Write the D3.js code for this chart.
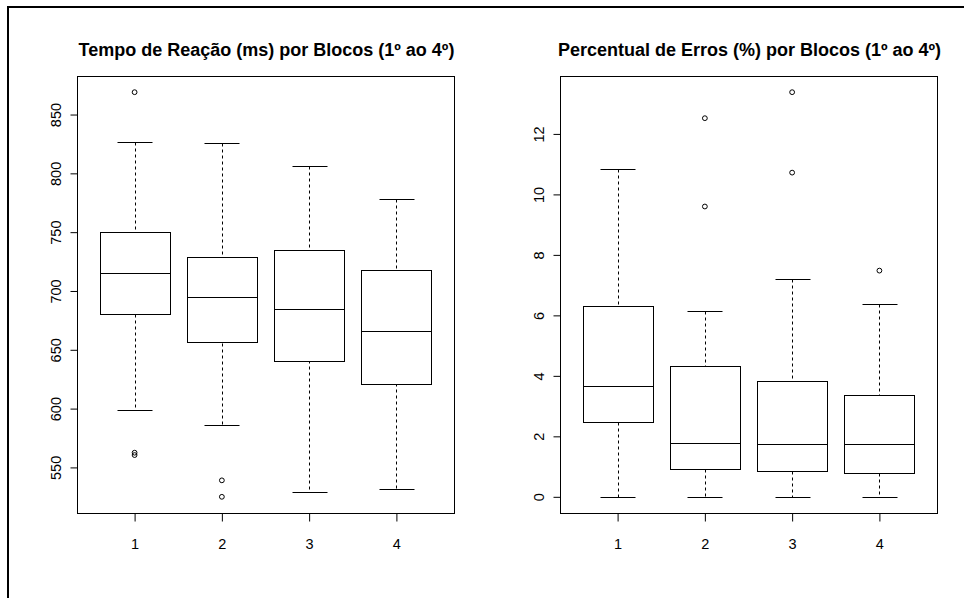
<!DOCTYPE html>
<html>
<head>
<meta charset="utf-8">
<script src="https://cdn.jsdelivr.net/npm/d3@7"></script>
<style>
  html, body { margin: 0; padding: 0; background: #fff; }
  svg { display: block; }
  text { font-family: "Liberation Sans", Arial, Helvetica, sans-serif; fill: #000; }
</style>
</head>
<body>
<script>
// Blocks on the x axis
const blocks = ["1", "2", "3", "4"];

// Reaction time (ms): whisker ends, quartiles, medians and outliers per block
const rtLower   = [599, 586, 529, 532];
const rtQ1      = [680, 656, 641, 621.5];
const rtMedian  = [715, 695, 684.5, 666];
const rtQ3      = [750, 728.5, 735, 718];
const rtUpper   = [827, 826, 806.5, 778];
const rtOutliers = [[869, 562.5, 560.5], [539, 525], [], []];
const rtTicks   = [550, 600, 650, 700, 750, 800, 850];

// Error percentage (%): whisker ends, quartiles, medians and outliers per block
const errLower   = [0, 0, 0, 0];
const errQ1      = [2.47, 0.92, 0.86, 0.79];
const errMedian  = [3.65, 1.78, 1.73, 1.75];
const errQ3      = [6.31, 4.33, 3.84, 3.38];
const errUpper   = [10.83, 6.13, 7.19, 6.39];
const errOutliers = [[], [12.52, 9.6], [13.38, 10.72], [7.48]];
const errTicks   = [0, 2, 4, 6, 8, 10, 12];

const W = 964, H = 598;
const svg = d3.select("body").append("svg").attr("width", W).attr("height", H);

// outer frame (only the top and left edges fall inside the page)
svg.append("rect")
  .attr("x", 8).attr("y", 7).attr("width", 1200).attr("height", 900)
  .attr("fill", "none").attr("stroke", "#000").attr("stroke-width", 2);

function panel(opts) {
  const { left, right, top, bottom, title, lower, q1, med, q3, upper, outliers, ticks } = opts;
  const g = svg.append("g");

  // y extent: data range padded by 4% on each side
  const all = [].concat(lower, upper, outliers.flat());
  const lo = d3.min(all), hi = d3.max(all), pad = (hi - lo) * 0.04;
  const y = d3.scaleLinear().domain([lo - pad, hi + pad]).range([bottom, top]);
  const x = d3.scaleLinear().domain([0.34, 4.66]).range([left, right]);

  const bw = x(1.4) - x(1);   // half box width (box width 0.8)
  const cw = x(1.2) - x(1);   // half staple width

  // title
  g.append("text")
    .attr("x", (left + right) / 2 + 1).attr("y", 56)
    .attr("text-anchor", "middle")
    .attr("font-weight", "bold").attr("font-size", 18)
    .text(title);

  // plot frame
  g.append("rect")
    .attr("x", left + 0.5).attr("y", top + 0.5)
    .attr("width", right - left).attr("height", bottom - top)
    .attr("fill", "none").attr("stroke", "#000").attr("stroke-width", 1);

  // y axis
  const ya = d3.axisLeft(y).tickValues(ticks).tickSize(7).tickPadding(0).tickFormat(d3.format("d"));
  const yg = g.append("g").attr("transform", `translate(${left + 0.5},0)`).call(ya);
  yg.select(".domain").remove();
  yg.selectAll(".tick line").attr("stroke", "#000");
  yg.selectAll(".tick text")
    .attr("x", 0).attr("y", 0).attr("dy", 0)
    .attr("transform", "translate(-17,0) rotate(-90)")
    .attr("text-anchor", "middle")
    .attr("font-size", 14.5)
    .style("font-family", "Liberation Sans, Arial, sans-serif");

  // x axis
  const xa = d3.axisBottom(x).tickValues([1, 2, 3, 4]).tickSize(8).tickPadding(0)
    .tickFormat((d, i) => blocks[i]);
  const xg = g.append("g").attr("transform", `translate(0,${bottom + 0.5})`).call(xa);
  xg.select(".domain").remove();
  xg.selectAll(".tick line").attr("stroke", "#000");
  xg.selectAll(".tick text")
    .attr("y", 35).attr("dy", 0)
    .attr("font-size", 14.5)
    .style("font-family", "Liberation Sans, Arial, sans-serif");

  const px = v => Math.round(v) + 0.5;

  blocks.forEach((b, i) => {
    const cx = x(i + 1);
    const bg = g.append("g").attr("stroke", "#000").attr("stroke-width", 1).attr("fill", "none");

    // whiskers
    bg.append("line").attr("x1", px(cx)).attr("x2", px(cx))
      .attr("y1", px(y(upper[i]))).attr("y2", px(y(q3[i])))
      .attr("stroke-dasharray", "3,3");
    bg.append("line").attr("x1", px(cx)).attr("x2", px(cx))
      .attr("y1", px(y(q1[i]))).attr("y2", px(y(lower[i])))
      .attr("stroke-dasharray", "3,3");

    // staples
    [upper[i], lower[i]].forEach(v => {
      bg.append("line").attr("x1", px(cx - cw)).attr("x2", px(cx + cw))
        .attr("y1", px(y(v))).attr("y2", px(y(v)));
    });

    // box
    bg.append("rect")
      .attr("x", px(cx - bw)).attr("y", px(y(q3[i])))
      .attr("width", Math.round(2 * bw)).attr("height", Math.round(y(q1[i]) - y(q3[i])))
      .attr("fill", "#fff");

    // median
    bg.append("line").attr("x1", px(cx - bw)).attr("x2", px(cx - bw) + Math.round(2 * bw))
      .attr("y1", px(y(med[i]))).attr("y2", px(y(med[i])));

    // outliers
    bg.selectAll("circle.out").data(outliers[i]).enter().append("circle")
      .attr("class", "out")
      .attr("cx", cx).attr("cy", d => y(d)).attr("r", 2.4);
  });
}

panel({
  left: 77, right: 454, top: 76, bottom: 513,
  title: "Tempo de Reação (ms) por Blocos (1º ao 4º)",
  lower: rtLower, q1: rtQ1, med: rtMedian, q3: rtQ3, upper: rtUpper,
  outliers: rtOutliers, ticks: rtTicks
});

panel({
  left: 560, right: 937, top: 76, bottom: 513,
  title: "Percentual de Erros (%) por Blocos (1º ao 4º)",
  lower: errLower, q1: errQ1, med: errMedian, q3: errQ3, upper: errUpper,
  outliers: errOutliers, ticks: errTicks
});
</script>
</body>
</html>
